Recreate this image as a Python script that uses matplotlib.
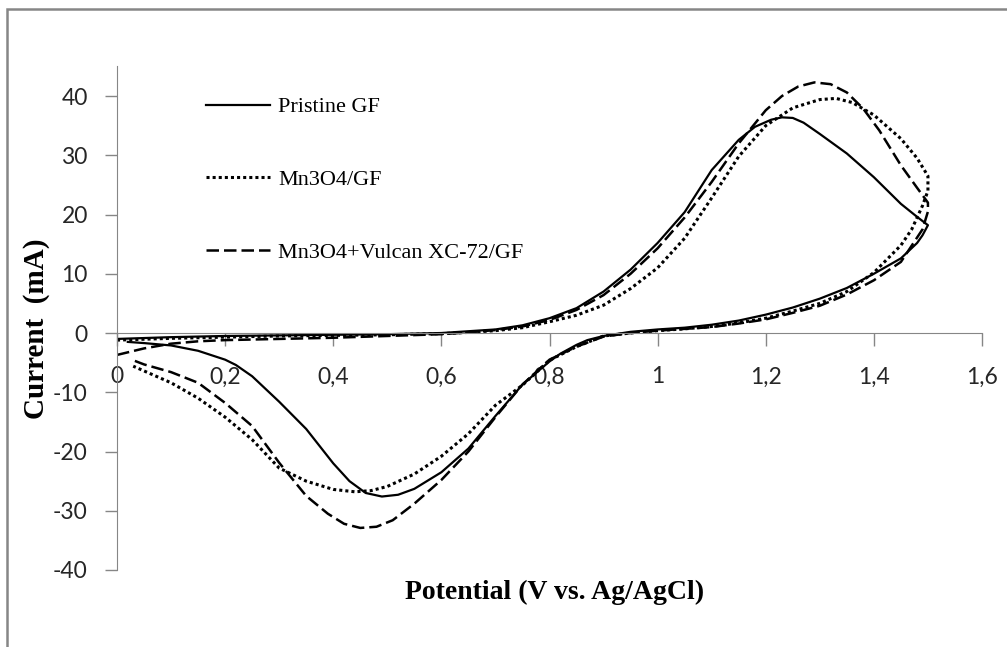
"""Voltamperogramas ciclicos: GF, Mn3O4/GF y Mn3O4+Vulcan XC-72/GF."""
import matplotlib

matplotlib.use("Agg")

import matplotlib.pyplot as plt
from matplotlib.patches import Rectangle

# --- datos (V vs. Ag/AgCl, mA) ---
pristine_v = [0.0, 0.1, 0.2, 0.3, 0.4, 0.5, 0.6, 0.65, 0.7, 0.75, 0.8, 0.85, 0.9,
              0.95, 1.0, 1.05, 1.1, 1.15, 1.18, 1.21, 1.23, 1.25, 1.27, 1.3, 1.35,
              1.4, 1.45, 1.48, 1.5,
              1.49, 1.48, 1.45, 1.4, 1.35, 1.3, 1.25, 1.2, 1.15, 1.1, 1.05, 1.0,
              0.95, 0.9, 0.87, 0.85, 0.82, 0.8, 0.75, 0.7, 0.65, 0.6, 0.55, 0.52,
              0.49, 0.46, 0.43, 0.4, 0.35, 0.3, 0.25, 0.22, 0.2, 0.15, 0.1, 0.05,
              0.02]
pristine_i = [-1.0, -0.7, -0.5, -0.4, -0.3, -0.2, 0.0, 0.3, 0.6, 1.3, 2.5, 4.2, 7.0,
              10.7, 15.2, 20.4, 27.5, 32.6, 34.8, 36.0, 36.4, 36.3, 35.5, 33.6, 30.3,
              26.3, 21.8, 19.6, 18.2,
              16.5, 15.2, 12.6, 10.0, 7.6, 5.8, 4.3, 3.1, 2.1, 1.4, 0.9, 0.6,
              0.2, -0.5, -1.2, -2.0, -3.5, -4.8, -8.7, -14.0, -19.5, -23.5, -26.3,
              -27.3, -27.6, -27.0, -25.0, -22.0, -16.2, -11.6, -7.3, -5.4, -4.5,
              -3.0, -2.1, -1.7, -1.5]

mn3o4_v = [0.0, 0.1, 0.2, 0.3, 0.4, 0.5, 0.6, 0.65, 0.7, 0.75, 0.8, 0.85, 0.9,
           0.95, 1.0, 1.05, 1.1, 1.15, 1.2, 1.25, 1.3, 1.33, 1.36, 1.4, 1.45, 1.48,
           1.5, 1.5, 1.49, 1.47, 1.45, 1.4, 1.35, 1.3, 1.25, 1.2, 1.15, 1.1, 1.05,
           1.0, 0.95, 0.9, 0.85, 0.8, 0.75, 0.7, 0.65, 0.6, 0.55, 0.5, 0.47, 0.44,
           0.4, 0.35, 0.3, 0.25, 0.2, 0.15, 0.1, 0.05, 0.03]
mn3o4_i = [-1.2, -0.9, -0.7, -0.5, -0.4, -0.3, -0.1, 0.1, 0.4, 0.9, 1.9, 3.0, 4.7,
           7.5, 11.0, 16.0, 22.8, 29.8, 35.0, 38.0, 39.4, 39.6, 38.9, 36.8, 32.8,
           29.5, 26.5, 24.0, 21.5, 17.5, 14.8, 10.2, 7.0, 5.0, 3.7, 2.5, 1.7, 1.1,
           0.7, 0.4, 0.0, -0.5, -2.3, -4.6, -8.8, -12.2, -17.0, -20.8, -23.8, -25.9,
           -26.6, -26.8, -26.4, -25.0, -22.8, -18.0, -14.2, -11.0, -8.4, -6.4, -5.6]

vulcan_v = [0.0, 0.05, 0.1, 0.15, 0.2, 0.3, 0.4, 0.5, 0.6, 0.65, 0.7, 0.75, 0.8,
            0.85, 0.9, 0.95, 1.0, 1.05, 1.1, 1.15, 1.2, 1.23, 1.26, 1.29, 1.32,
            1.35, 1.38, 1.41, 1.45, 1.48, 1.5,
            1.5, 1.49, 1.45, 1.4, 1.35, 1.3, 1.25, 1.2, 1.15, 1.1, 1.05, 1.0, 0.95,
            0.9, 0.85, 0.8, 0.75, 0.7, 0.65, 0.6, 0.55, 0.51, 0.48, 0.45, 0.42,
            0.39, 0.35, 0.3, 0.25, 0.2, 0.15, 0.1, 0.05, 0.03]
vulcan_i = [-3.7, -2.6, -1.8, -1.4, -1.2, -1.0, -0.8, -0.5, -0.2, 0.1, 0.5, 1.1, 2.2,
            3.9, 6.4, 10.0, 14.3, 19.5, 25.5, 32.0, 37.6, 40.0, 41.6, 42.3, 42.0,
            40.6, 37.9, 34.2, 28.3, 24.5, 22.0,
            20.5, 17.5, 12.0, 8.9, 6.5, 4.6, 3.4, 2.3, 1.6, 1.0, 0.7, 0.4, 0.0,
            -0.6, -2.3, -4.5, -8.7, -14.2, -20.0, -24.8, -28.8, -31.6, -32.7, -32.9,
            -32.2, -30.5, -27.5, -21.9, -15.7, -11.8, -8.4, -6.6, -5.3, -4.6]

labels = ["Pristine GF", "Mn3O4/GF", "Mn3O4+Vulcan XC-72/GF"]
x_ticks = [0, 0.2, 0.4, 0.6, 0.8, 1.0, 1.2, 1.4, 1.6]
y_ticks = [-40, -30, -20, -10, 0, 10, 20, 30, 40]

GRIS = "#868686"

fig = plt.figure(figsize=(10.07, 6.47), dpi=100)
ax = fig.add_axes([117 / 1007, 1 - 570 / 647, 865 / 1007, (570 - 66.4) / 647])

estilo = dict(color="black", solid_joinstyle="round", dash_joinstyle="round")
ax.plot(pristine_v, pristine_i, lw=1.6, ls="-", label=labels[0], **estilo)
ax.plot(mn3o4_v, mn3o4_i, lw=2.2, ls=(0, (1, 1)), label=labels[1], **estilo)
ax.plot(vulcan_v, vulcan_i, lw=1.8, ls=(0, (5, 2)), label=labels[2], **estilo)

ax.set_xlim(0, 1.6)
ax.set_ylim(-40, 45)

for s in ("top", "right"):
    ax.spines[s].set_visible(False)
ax.spines["bottom"].set_position(("data", 0))
ax.spines["left"].set_color(GRIS)
ax.spines["bottom"].set_color(GRIS)

ax.set_xticks(x_ticks)
ax.set_xticklabels([f"{t:g}".replace(".", ",") for t in x_ticks])
ax.set_yticks(y_ticks)
ax.set_yticklabels([str(t) for t in y_ticks])
ax.tick_params(axis="both", direction="out", length=9, width=1, color=GRIS,
               labelsize=16.5, labelcolor="#262626")
ax.tick_params(axis="x", pad=15)
ax.tick_params(axis="y", pad=12)
for lab in ax.get_xticklabels() + ax.get_yticklabels():
    lab.set_family("Lato")

fig.text(36.5 / 1007, 1 - 329 / 647, "Current  (mA)", rotation=90, ha="center",
         va="center", family="Liberation Serif", weight="bold", fontsize=21)
fig.text(555 / 1007, 1 - 592 / 647, "Potential (V vs. Ag/AgCl)", ha="center",
         va="center", family="Liberation Serif", weight="bold", fontsize=20)

leg = ax.legend(loc="upper left", bbox_to_anchor=(80 / 865, (570 - 88) / 503.6),
                frameon=False, handlelength=2.9, handletextpad=0.35,
                labelspacing=2.35, borderaxespad=0,
                prop={"family": "Liberation Serif", "size": 16})

# marco exterior gris del grafico
fig.patches.append(Rectangle((7 / 1007, -0.1), 1.2, 1.1 - 9 / 647, fill=False,
                             ec=GRIS, lw=1.8, transform=fig.transFigure))

fig.savefig("out.png", dpi=100)
plt.close(fig)
